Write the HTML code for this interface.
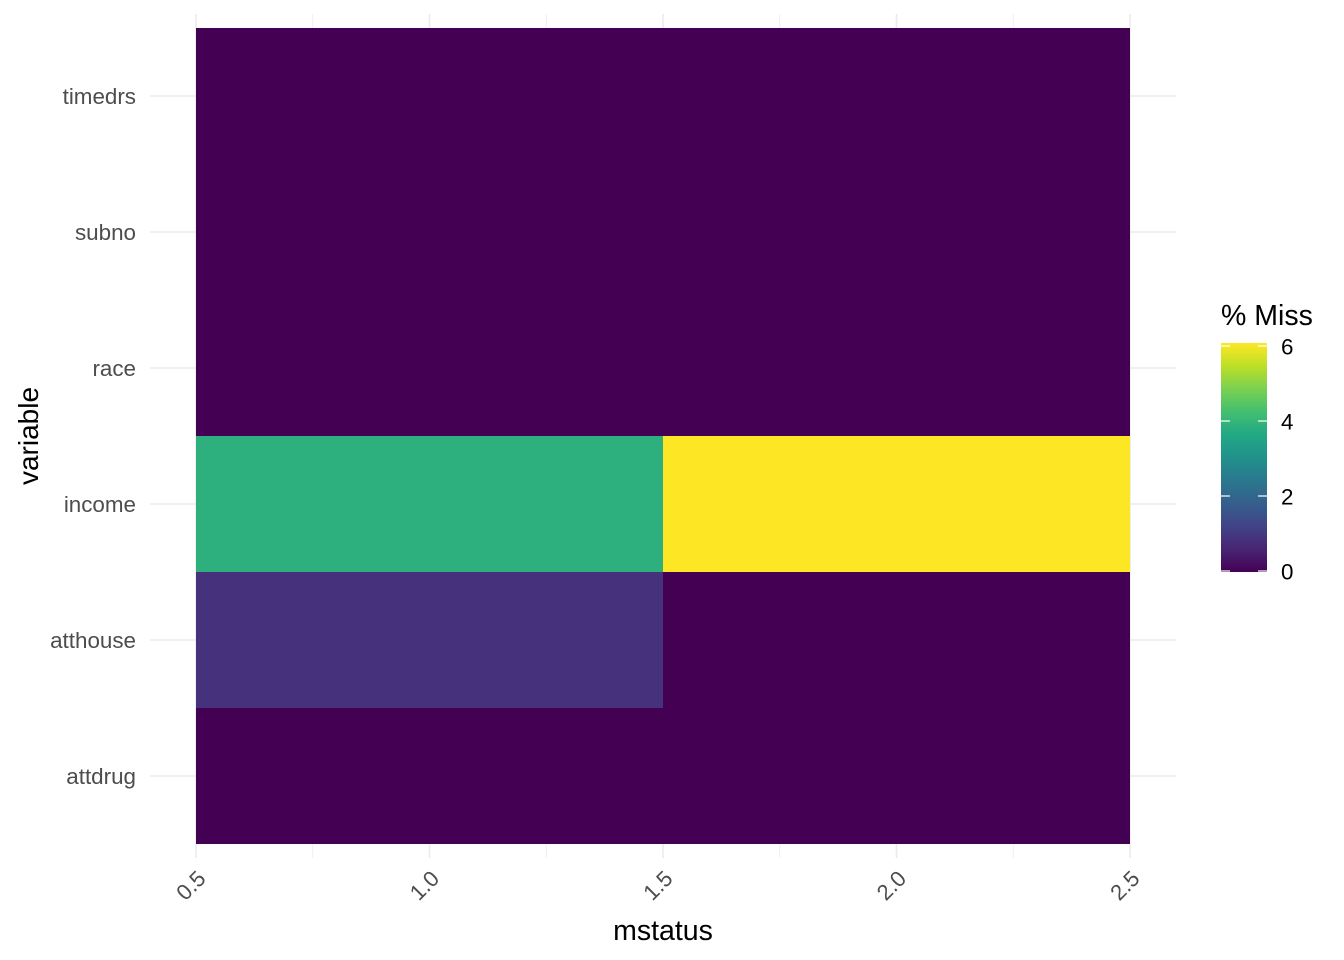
<!DOCTYPE html>
<html><head><meta charset="utf-8"><style>
html,body{margin:0;padding:0;background:#fff}
svg{display:block;font-family:"Liberation Sans",Arial,sans-serif}
</style></head><body>
<svg id="chart" width="1344" height="960"></svg>
<script>
const variables = ["attdrug","atthouse","income","race","subno","timedrs"];
const xCats = [1, 2];
const missAt1 = [0, 0.85, 3.85, 0, 0, 0];
const missAt2 = [0, 0, 6.08, 0, 0, 0];
const xTicks = [0.5, 1.0, 1.5, 2.0, 2.5];
const xTickLabels = ["0.5","1.0","1.5","2.0","2.5"];
const legendTicks = [0, 2, 4, 6];

const NS = "http://www.w3.org/2000/svg";
const svg = document.getElementById("chart");
function mk(tag, attrs, parent){const e=document.createElementNS(NS,tag);for(const k in attrs)e.setAttribute(k,attrs[k]);(parent||svg).appendChild(e);return e;}
const x = v => 196 + (v - 0.5) * 467;
const rowH = 136;
const yTop = i => 844 - (i + 1) * rowH;
const maxV = Math.max(...missAt1, ...missAt2);
const vir = ["#440154","#482475","#414487","#355f8d","#2a788e","#21918c","#22a884","#44bf70","#7ad151","#bddf26","#fde725"];
function hex(h){return [1,3,5].map(i=>parseInt(h.substr(i,2),16));}
function color(v){let t=Math.max(0,Math.min(1,v/maxV))*10;let i=Math.min(9,Math.floor(t));let f=t-i;const a=hex(vir[i]),b=hex(vir[i+1]);return "rgb("+a.map((c,k)=>Math.round(c+(b[k]-c)*f)).join(",")+")";}

for(let v=0.5; v<=2.5001; v+=0.25){
  const g=mk("line",{x1:x(v),x2:x(v),y1:14,y2:858,stroke:"#ebebeb","stroke-width":Math.abs(v*2-Math.round(v*2))<1e-6?1.6:0.8});
  
  
}
variables.forEach((n,i)=>{
  const g=mk("line",{x1:150,x2:1176,y1:yTop(i)+rowH/2,y2:yTop(i)+rowH/2,stroke:"#ebebeb","stroke-width":1.6});
  
  
});
const series=[missAt1,missAt2];
xCats.forEach((c,j)=>{
  variables.forEach((n,i)=>{
    const r=mk("rect",{x:x(c-0.5),y:yTop(i),width:x(c+0.5)-x(c-0.5),height:rowH,fill:color(series[j][i])});
    
    
  });
});
variables.forEach((n,i)=>{
  const t=mk("text",{x:136,y:yTop(i)+rowH/2+8,"text-anchor":"end","font-size":22.4,fill:"#4d4d4d"});
  t.textContent=n;
  
  
});
xTicks.forEach((v,i)=>{
  const px=x(v)+11, py=880;
  const t=mk("text",{x:px,y:py,"text-anchor":"end","font-size":22,fill:"#4d4d4d",transform:"rotate(-45 "+px+" "+py+")"});
  t.textContent=xTickLabels[i];
  
  
});
let t=mk("text",{x:663,y:940,"text-anchor":"middle","font-size":28.5,fill:"#000"});t.textContent="mstatus";


t=mk("text",{x:38,y:436,"text-anchor":"middle","font-size":28,fill:"#000",transform:"rotate(-90 38 436)"});t.textContent="variable";


const ly = v => 571 - v*37.5;
const defs=mk("defs",{});
const lg=mk("linearGradient",{id:"vg",x1:0,y1:1,x2:0,y2:0},defs);
vir.forEach((c,k)=>mk("stop",{offset:k/10,"stop-color":c},lg));
t=mk("text",{x:1221,y:325,"font-size":28.5,fill:"#000"});t.textContent="% Miss";


const bar=mk("rect",{x:1221,y:ly(maxV),width:46,height:ly(0)-ly(maxV)+1,fill:"url(#vg)"});


legendTicks.forEach(v=>{
  [[1221,1230],[1258,1267]].forEach(s=>{
    const l=mk("line",{x1:s[0],x2:s[1],y1:ly(v),y2:ly(v),stroke:"#fff","stroke-width":1.2});
    
    
  });
  const tt=mk("text",{x:1281,y:ly(v)+8.5,"font-size":22.4,fill:"#000"});tt.textContent=v;
  
  
});
</script>
</body></html>
